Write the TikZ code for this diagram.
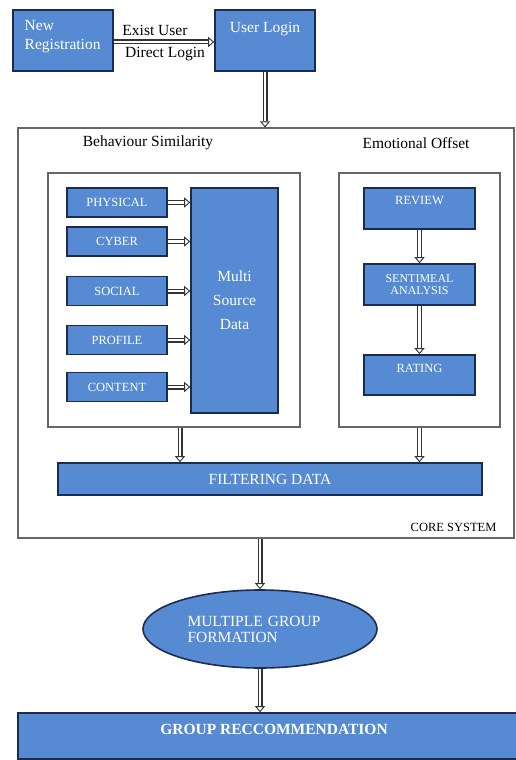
\documentclass[tikz,border=0pt]{standalone}
\usepackage{fontspec}
\setmainfont{Liberation Serif}
\usetikzlibrary{arrows.meta,shapes.geometric,calc}
\definecolor{boxfill}{RGB}{86,139,212}
\definecolor{boxedge}{RGB}{28,44,80}
\tikzset{
    blockbox/.style={draw=boxedge, line width=1.6pt, fill=boxfill, text=white, inner sep=2pt},
    panelbox/.style={draw=black!60, line width=1.2pt},
    shaftline/.style={draw=black!80, line width=1.1pt, double=white, double distance=2.8pt},
    tipline/.style={draw=black!80, line width=0.9pt, -{Triangle[open, length=6pt, width=10pt]}},
    bigtext/.style={font=\fontsize{15.5}{16}\selectfont},
    smalltext/.style={font=\fontsize{12.5}{13}\selectfont}
}
% freccia cava: doppia linea con punta aperta
\newcommand{\hollowlink}[2]{%
    \draw[shaftline] (#1) -- ($(#2)!6pt!(#1)$);
    \draw[tipline] ($(#2)!6pt!(#1)$) -- (#2);
}
\begin{document}
\begin{tikzpicture}[x=1pt, y=-1pt]
    \useasboundingbox (0,0) rectangle (516,760);

    % Registrazione e login in alto
    \node[blockbox, minimum width=100, minimum height=61] (newreg) at (63,40.5) {};
    \node[font=\fontsize{15.5}{19}\selectfont, text=white, align=left, anchor=north west] (newregtext) at ([xshift=9pt, yshift=-8pt]newreg.north west) {New\\Registration};
    \node[blockbox, minimum width=100, minimum height=61] (login) at (265,40.5) {};
    \node[bigtext, text=white, below=10pt] (logintext) at (login.north) {User Login};
    \hollowlink{[yshift=-1.5pt]newreg.east}{[yshift=-1.5pt]login.west}
    \node[bigtext, inner sep=1pt] (existlbl) at (155,30) {Exist User};
    \node[bigtext, inner sep=1pt] (directlbl) at (165,54) {Direct Login};

    % Riquadro grande del sistema centrale
    \node[panelbox, minimum width=496, minimum height=410] (core) at (266,333) {};
    \node[bigtext] (behavlbl) at (148,143) {Behaviour Similarity};
    \node[bigtext] (emotlbl) at (416,143) {Emotional Offset};
    \node[smalltext, anchor=base east] (corelbl) at (500,531) {CORE SYSTEM};
    \hollowlink{login.south}{login.south |- core.north}

    % Due riquadri interni
    \node[panelbox, minimum width=252, minimum height=254] (leftpanel) at (174,300) {};
    \node[panelbox, minimum width=161, minimum height=254] (rightpanel) at (419.5,300) {};

    % Sorgenti a sinistra
    \node[blockbox, minimum width=87, minimum height=225, font=\fontsize{15.5}{24}\selectfont, align=center] (multi) at (234.5,300.5) {Multi\\Source\\Data};
    \foreach \nm/\txt/\yy in {phys/PHYSICAL/202.5, cyber/CYBER/241.5, social/SOCIAL/291, profile/PROFILE/340, content/CONTENT/387} {
        \node[blockbox, smalltext, minimum width=100, minimum height=29] (\nm) at (117,\yy) {\txt};
        \hollowlink{\nm.east}{\nm.east -| multi.west}
    }

    % Colonna a destra
    \node[blockbox, minimum width=111, minimum height=41] (review) at (419.5,208.5) {};
    \node[smalltext, text=white, below=6pt] (reviewtext) at (review.north) {REVIEW};
    \node[blockbox, minimum width=111, minimum height=41, align=center, font=\fontsize{12}{12}\selectfont] (senti) at (419.5,284.5) {SENTIMEAL\\ANALYSIS};
    \node[blockbox, minimum width=111, minimum height=40] (rating) at (419.5,375) {};
    \node[smalltext, text=white, below=6pt] (ratingtext) at (rating.north) {RATING};
    \hollowlink{review.south}{senti.north}
    \hollowlink{senti.south}{rating.north}

    % Barra di filtraggio
    \node[blockbox, bigtext, minimum width=424, minimum height=32] (filter) at (270,479) {FILTERING DATA};
    \hollowlink{[xshift=6pt]leftpanel.south}{[xshift=6pt]leftpanel.south |- filter.north}
    \hollowlink{rightpanel.south}{rightpanel.south |- filter.north}

    % Parte bassa: formazione dei gruppi e raccomandazione
    \node[ellipse, blockbox, bigtext, minimum width=234, minimum height=78, text width=145, align=left] (groupform) at (260,629) {MULTIPLE GROUP\\FORMATION};
    \hollowlink{groupform.north |- core.south}{groupform.north}
    \node[blockbox, minimum width=512, minimum height=46] (grouprec) at (274,736) {};
    \node[font=\fontsize{15.5}{16}\selectfont\bfseries, text=white, below=8pt] (grouprectext) at (grouprec.north) {GROUP RECCOMMENDATION};
    \hollowlink{groupform.south}{groupform.south |- grouprec.north}
\end{tikzpicture}
\end{document}
